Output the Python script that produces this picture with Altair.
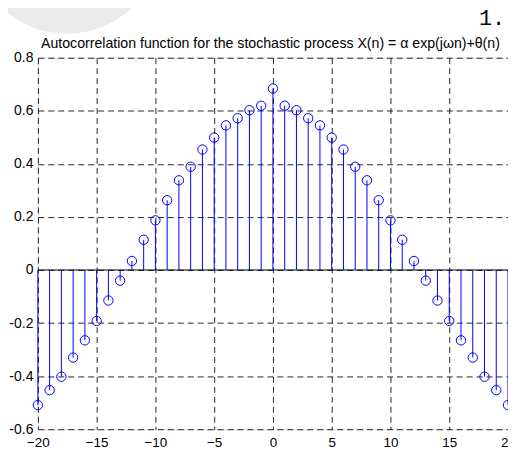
import altair as alt
import pandas as pd

n_vals = list(range(-20, 21))
r_vals = [-0.509, -0.453, -0.402, -0.330, -0.265, -0.192, -0.115, -0.040, 0.034,
          0.114, 0.187, 0.263, 0.338, 0.389, 0.454, 0.499, 0.545, 0.572, 0.602, 0.619,
          0.684,
          0.619, 0.602, 0.572, 0.545, 0.499, 0.454, 0.389, 0.338, 0.263, 0.187, 0.114,
          0.034, -0.040, -0.115, -0.192, -0.265, -0.330, -0.402, -0.453, -0.509]
x_ticks = [-20, -15, -10, -5, 0, 5, 10, 15, 20]
y_ticks = [-0.6, -0.4, -0.2, 0, 0.2, 0.4, 0.6, 0.8]
title_text = "Autocorrelation function for the stochastic process X(n) = \u03b1 exp(j\u03c9n)+\u03b8(n)"

df = pd.DataFrame({"n": n_vals, "r": r_vals, "base": [0.0] * len(n_vals)})

FONT = "Liberation Sans"

xscale = alt.Scale(domain=[-20, 20], nice=False, zero=False)
yscale = alt.Scale(domain=[-0.6, 0.8], nice=False, zero=False)

xaxis = alt.Axis(values=x_ticks, grid=True, ticks=False, domain=False, title=None,
                 labelFont=FONT, labelFontSize=13.5, labelColor="black", labelPadding=6,
                 gridColor="black", gridDash=[6, 4], gridOpacity=0.85, gridWidth=1,
                 labelFlush=False)
yaxis = alt.Axis(values=y_ticks, grid=True, ticks=False, domain=False, title=None,
                 labelFont=FONT, labelFontSize=14, labelColor="black", labelPadding=5,
                 gridColor="black", gridDash=[6, 4], gridOpacity=0.85, gridWidth=1,
                 labelExpr="'' + datum.value", labelFlush=False)

base = alt.Chart(df)

seal = alt.Chart(pd.DataFrame({"k": [0]})).mark_point(
    shape="circle", filled=True, color="#ebebeb", opacity=1, size=36100
).encode(x=alt.value(29), y=alt.value(-119))

one = alt.Chart(pd.DataFrame({"t": ["1."]})).mark_text(
    font="Liberation Mono", fontSize=22, color="black", align="center", baseline="alphabetic"
).encode(x=alt.value(456), y=alt.value(-33), text="t:N")

title = alt.Chart(pd.DataFrame({"t": [title_text]})).mark_text(
    font=FONT, fontSize=14.2, color="black", align="center", baseline="middle"
).encode(x=alt.value(233.5), y=alt.value(-13.5), text="t:N")

gridlayer = base.mark_point(opacity=0).encode(
    x=alt.X("n:Q", scale=xscale, axis=xaxis),
    y=alt.Y("r:Q", scale=yscale, axis=yaxis),
)

zero_line = alt.Chart(pd.DataFrame({"z": [0.0]})).mark_rule(color="black", strokeWidth=1).encode(
    y=alt.Y("z:Q", scale=yscale)
)

stems = base.mark_rule(color="#0000ff", strokeWidth=1).encode(
    x=alt.X("n:Q", scale=xscale),
    y=alt.Y("base:Q", scale=yscale),
    y2="r:Q",
)

circles = base.mark_point(shape="circle", filled=False, color="#0000ff",
                          size=88, strokeWidth=1, opacity=1).encode(
    x=alt.X("n:Q", scale=xscale),
    y=alt.Y("r:Q", scale=yscale),
)

chart = alt.layer(seal, one, title, gridlayer, zero_line, stems, circles).properties(
    width=472,
    height=373,
    autosize=alt.AutoSizeParams(type="none"),
    padding={"left": 30, "top": 49, "right": 0, "bottom": 30},
).configure_view(stroke="black", strokeWidth=1).configure(background="white")

chart.save("out.html", embed_options={"renderer": "svg", "actions": False})
